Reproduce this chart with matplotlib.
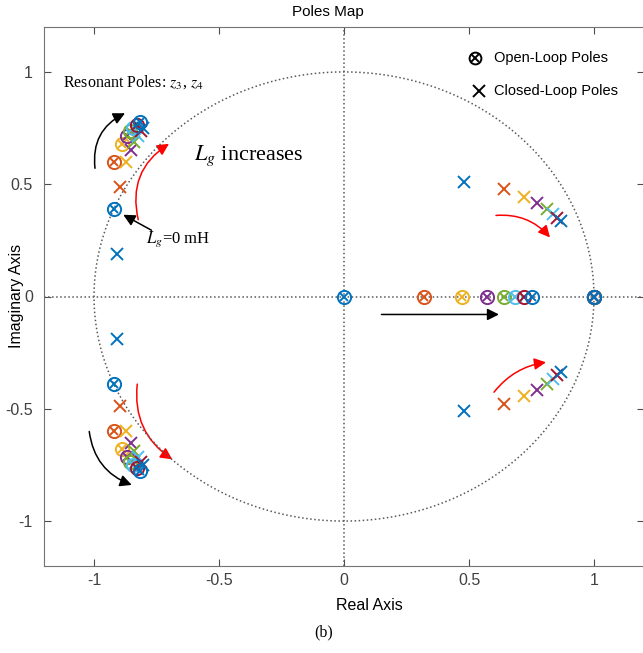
import numpy as np
import matplotlib.pyplot as plt
from matplotlib.patches import FancyArrowPatch

plt.rcParams['font.family'] = ['Liberation Sans', 'DejaVu Sans']
plt.rcParams['axes.unicode_minus'] = False
plt.rcParams['mathtext.fontset'] = 'stix'

# MATLAB default colour order, 8 values of Lg
colors = ['#0072BD', '#D95319', '#EDB120', '#7E2F8E', '#77AC30', '#4DBEEE', '#A2142F', '#0072BD']

# open-loop poles
ol_real = [0.0, 0.32, 0.47, 0.57, 0.64, 0.685, 0.72, 0.753]
ol_res_re = [-0.92, -0.919, -0.889, -0.869, -0.856, -0.843, -0.83, -0.816]
ol_res_im = [0.39, 0.60, 0.678, 0.713, 0.735, 0.75, 0.765, 0.776]

# closed-loop poles
cl_res_re = [-0.907, -0.896, -0.872, -0.852, -0.84, -0.826, -0.814, -0.803]
cl_res_im = [0.19, 0.487, 0.60, 0.653, 0.69, 0.715, 0.735, 0.75]
cl_r_re = [0.48, 0.641, 0.721, 0.771, 0.81, 0.835, 0.853, 0.868]
cl_r_im = [0.51, 0.478, 0.445, 0.415, 0.39, 0.367, 0.349, 0.334]

fig = plt.figure(figsize=(6.43, 6.53), dpi=100)
ax = fig.add_axes([44 / 643, 87 / 653, 600 / 643, 539 / 653])

# grid: axes through origin and unit circle
t = np.linspace(0, 2 * np.pi, 400)
ax.plot(np.cos(t), np.sin(t), ':', color='0.35', lw=1.1)
ax.axhline(0, ls=':', color='0.35', lw=1.1)
ax.axvline(0, ls=':', color='0.35', lw=1.1)


def olpole(x, y, c, ms=9.5):
    ax.plot(x, y, 'o', ms=ms, mfc='none', mec=c, mew=1.4)
    ax.plot(x, y, 'x', ms=ms * 0.68, mec=c, mew=1.4)


def clpole(x, y, c):
    ax.plot(x, y, 'x', ms=9, mec=c, mew=1.4)


for i in range(len(colors)):
    c = colors[i]
    olpole(1.0, 0.0, c)
    olpole(ol_real[i], 0.0, c)
    olpole(ol_res_re[i], ol_res_im[i], c)
    olpole(ol_res_re[i], -ol_res_im[i], c)
    clpole(cl_res_re[i], cl_res_im[i], c)
    clpole(cl_res_re[i], -cl_res_im[i], c)
    clpole(cl_r_re[i], cl_r_im[i], c)
    clpole(cl_r_re[i], -cl_r_im[i], c)

ax.set_xlim(-1.2, 1.2)
ax.set_ylim(-1.2, 1.2)
ax.set_xticks([-1, -0.5, 0, 0.5, 1])
ax.set_xticklabels(['-1', '-0.5', '0', '0.5', '1'])
ax.set_yticks([-1, -0.5, 0, 0.5, 1])
ax.set_yticklabels(['-1', '-0.5', '0', '0.5', '1'])
ax.tick_params(direction='in', length=5, top=True, right=True, labelsize=11.5,
               colors='0.3', labelcolor='0.25')
ax.tick_params(axis='x', pad=5)
ax.tick_params(axis='y', pad=8)
for s in ax.spines.values():
    s.set_color('0.45')

fig.text(328 / 643, 1 - 12 / 653, 'Poles Map', ha='center', va='center', fontsize=11)
fig.text(369 / 643, 1 - 606 / 653, 'Real Axis', ha='center', va='center', fontsize=11.5)
fig.text(17 / 643, 1 - 296 / 653, 'Imaginary Axis', ha='center', va='center',
         rotation=90, fontsize=11.5)
fig.text(324 / 643, 1 - 632 / 653, '(b)', ha='center', va='center', fontsize=11.5,
         family='Liberation Serif')

# legend
olpole(0.524, 1.06, 'black', ms=8.5)
clpole(0.54, 0.915, 'black')
ax.text(0.6, 1.06, 'Open-Loop Poles', va='center', fontsize=10.5)
ax.text(0.6, 0.915, 'Closed-Loop Poles', va='center', fontsize=10.5)

# annotations
ax.text(-1.125, 0.955, 'Resonant Poles: $z_3$, $z_4$', va='center', fontsize=11.5,
        family='Liberation Serif')
ax.text(-0.6, 0.625, '$L_g$ increases', va='center', fontsize=16,
        family='Liberation Serif')
ax.text(-0.79, 0.255, '$L_g$=0 mH', va='center', fontsize=12,
        family='Liberation Serif')


def arrow(p0, p1, c, rad):
    a = FancyArrowPatch(p0, p1, connectionstyle=f'arc3,rad={rad}',
                        arrowstyle='-|>,head_length=7,head_width=3.5',
                        color=c, lw=1.1, shrinkA=0, shrinkB=0)
    ax.add_patch(a)


arrow((-0.996, 0.571), (-0.876, 0.816), 'black', -0.35)
arrow((-0.823, 0.342), (-0.70, 0.68), 'red', -0.35)
arrow((-1.019, -0.601), (-0.849, -0.839), 'black', 0.3)
arrow((-0.827, -0.39), (-0.687, -0.725), 'red', 0.3)
arrow((0.608, 0.361), (0.824, 0.263), 'red', -0.25)
arrow((0.60, -0.426), (0.808, -0.293), 'red', -0.2)
arrow((0.15, -0.08), (0.62, -0.08), 'black', 0)
arrow((-0.77, 0.295), (-0.883, 0.364), 'black', 0)

fig.savefig('out.png', dpi=100)
